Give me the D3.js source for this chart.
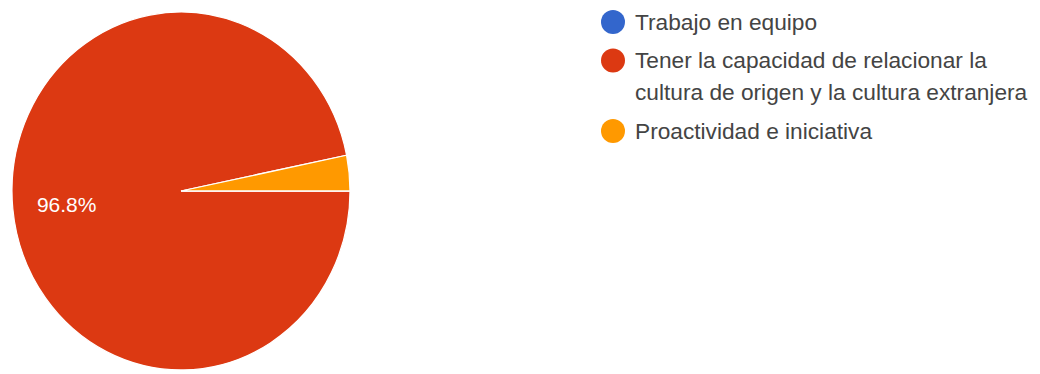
<!DOCTYPE html>
<html>
<head>
<meta charset="utf-8">
<script src="https://cdn.jsdelivr.net/npm/d3@7/dist/d3.min.js"></script>
<style>
  html, body { margin: 0; padding: 0; background: #fff; }
  svg { display: block; }
</style>
</head>
<body>
<svg id="chart" width="1040" height="374"></svg>
<script>
// Answer options and their share of responses (percent)
const categories = [
  "Trabajo en equipo",
  "Tener la capacidad de relacionar la cultura de origen y la cultura extranjera",
  "Proactividad e iniciativa"
];
const values = [0, 96.8, 3.2];
const colors = ["#3366cc", "#dc3912", "#ff9900"];

const W = 1040, H = 374;
const cx = 181, cy = 191, rx = 169, ry = 179;
const fontFamily = "'Liberation Sans', Arial, sans-serif";

const svg = d3.select("#chart");

// Pie drawn as a circle of radius rx, stretched vertically to ry
const pie = d3.pie().sort(null).value(d => d)
  .startAngle(Math.PI / 2).endAngle(Math.PI / 2 + 2 * Math.PI);
const arcs = pie(values);
const arc = d3.arc().innerRadius(0).outerRadius(rx);

const pieG = svg.append("g")
  .attr("transform", `translate(${cx},${cy}) scale(1,${ry / rx})`);

pieG.selectAll("path")
  .data(arcs.filter(a => a.data > 0))
  .join("path")
  .attr("d", arc)
  .attr("fill", (a) => colors[a.index])
  .attr("stroke", "#fff")
  .attr("stroke-width", 1.2);

// Percentage labels inside slices large enough to hold them
const labelArc = d3.arc().innerRadius(rx * 0.68).outerRadius(rx * 0.68);
const total = d3.sum(values);
svg.append("g")
  .selectAll("text")
  .data(arcs.filter(a => a.data / total > 0.05))
  .join("text")
  .attr("x", a => cx + labelArc.centroid(a)[0])
  .attr("y", a => cy + 1.5 + labelArc.centroid(a)[1] * ry / rx)
  .attr("dy", "0.35em")
  .attr("text-anchor", "middle")
  .attr("fill", "#fff")
  .attr("font-family", fontFamily)
  .attr("font-size", 21)
  .text(a => (a.data / total * 100).toFixed(1) + "%");

// Legend with wrapped labels
const legendX = 613, textX = 635, maxWidth = 410;
const lineH = 32, itemGap = 38.5;
const legend = svg.append("g");
let baseline = 29.5;
categories.forEach((label, i) => {
  const item = legend.append("g");
  const t = item.append("text")
    .attr("x", textX)
    .attr("font-family", fontFamily)
    .attr("font-size", 22.7)
    .attr("fill", "#444");
  // greedy word wrap
  const words = label.split(" ");
  let lines = [], cur = "";
  const probe = t.append("tspan");
  words.forEach(w => {
    const test = cur ? cur + " " + w : w;
    probe.text(test);
    if (probe.node().getComputedTextLength() > maxWidth && cur) {
      lines.push(cur);
      cur = w;
    } else {
      cur = test;
    }
  });
  lines.push(cur);
  probe.remove();
  lines.forEach((ln, j) => {
    t.append("tspan").attr("x", textX).attr("y", baseline + j * lineH).text(ln);
  });
  item.append("circle")
    .attr("cx", legendX)
    .attr("cy", baseline - 7.5)
    .attr("r", 12)
    .attr("fill", colors[i]);
  baseline += (lines.length - 1) * lineH + itemGap;
});
</script>
</body>
</html>
